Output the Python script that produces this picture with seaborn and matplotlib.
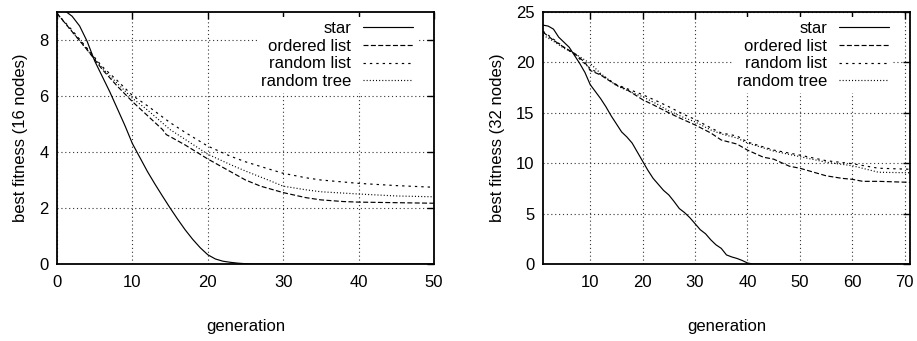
import numpy as np
import pandas as pd
import matplotlib
matplotlib.use("Agg")
import matplotlib.pyplot as plt
import seaborn as sns

# ---------------- data: 16 nodes ----------------
star16_gen = [0, 1, 2, 3, 4, 5, 6, 7, 8, 9, 10, 11, 12, 13, 14, 15, 16, 17, 18, 19,
              20, 21, 22, 23, 24, 25, 26, 50]
star16_val = [9.15, 9.05, 8.85, 8.5, 7.95, 7.25, 6.7, 6.15, 5.55, 4.95, 4.3, 3.8, 3.3,
              2.85, 2.42, 2.0, 1.6, 1.22, 0.88, 0.58, 0.33, 0.18, 0.1, 0.06, 0.03,
              0.01, 0.0, 0.0]

ordered16_gen = [0, 2, 4, 6, 8, 10, 12, 13, 14, 14.5, 15, 17, 20, 23, 25, 27, 30, 33,
                 35, 38, 40, 45, 50]
ordered16_val = [8.95, 8.3, 7.65, 6.95, 6.35, 5.8, 5.3, 5.05, 4.8, 4.62, 4.55, 4.25,
                 3.75, 3.3, 3.0, 2.78, 2.55, 2.37, 2.29, 2.23, 2.21, 2.19, 2.17]

rlist16_gen = [0, 2, 4, 6, 8, 10, 12, 15, 17, 20, 23, 25, 28, 30, 33, 35, 40, 45, 50]
rlist16_val = [8.95, 8.35, 7.7, 7.05, 6.55, 6.02, 5.65, 5.05, 4.7, 4.21, 3.85, 3.65,
               3.4, 3.24, 3.08, 3.0, 2.88, 2.8, 2.74]

rtree16_gen = [0, 2, 4, 6, 8, 10, 12, 15, 17, 20, 23, 25, 28, 30, 33, 35, 40, 45, 50]
rtree16_val = [8.95, 8.3, 7.65, 7.0, 6.45, 5.92, 5.5, 4.8, 4.45, 3.92, 3.55, 3.32,
               3.0, 2.78, 2.65, 2.58, 2.5, 2.43, 2.4]

# ---------------- data: 32 nodes ----------------
star32_gen = [1, 2, 3, 4, 5, 6, 7, 8, 9, 10, 11, 12, 13, 14, 15, 16, 17, 18, 19, 20,
              21, 22, 23, 24, 25, 26, 27, 28, 29, 30, 31, 32, 33, 34, 35, 36, 37, 38,
              39, 40, 41, 71]
star32_val = [23.7, 23.6, 23.3, 22.5, 22.0, 21.5, 20.7, 19.9, 19.0, 17.8, 17.1, 16.4,
              15.6, 14.7, 13.9, 13.1, 12.6, 12.0, 11.1, 10.2, 9.3, 8.5, 7.9, 7.3,
              6.85, 6.2, 5.5, 5.1, 4.6, 4.0, 3.4, 3.0, 2.4, 1.9, 1.55, 0.9, 0.7,
              0.55, 0.35, 0.1, 0.0, 0.0]

ordered32_gen = [1, 3, 5, 7, 9, 10, 12, 13, 15, 17, 20, 22, 25, 27, 30, 33, 35, 38, 40,
                 43, 45, 48, 50, 55, 58, 60, 62, 65, 71]
ordered32_val = [23.0, 22.2, 21.5, 20.9, 20.0, 19.2, 18.75, 18.4, 17.75, 17.3, 16.3,
                 15.8, 15.0, 14.5, 13.8, 13.0, 12.3, 11.9, 11.3, 10.6, 10.4, 9.7,
                 9.5, 8.75, 8.5, 8.4, 8.2, 8.2, 8.1]

rlist32_gen = [1, 3, 5, 7, 10, 12, 15, 18, 20, 23, 25, 28, 30, 33, 35, 38, 40, 45, 50,
               55, 60, 65, 71]
rlist32_val = [23.1, 22.3, 21.5, 20.8, 19.4, 18.8, 17.8, 17.2, 16.8, 16.1, 15.6, 14.8,
               14.35, 13.5, 13.0, 12.7, 12.1, 11.3, 10.8, 10.25, 9.95, 9.5, 9.4]

rtree32_gen = [1, 3, 5, 7, 10, 12, 15, 18, 20, 23, 25, 28, 30, 33, 35, 38, 40, 45, 50,
               55, 60, 65, 71]
rtree32_val = [22.7, 22.1, 21.4, 20.9, 19.9, 18.9, 17.7, 17.0, 16.6, 15.8, 15.2, 14.5,
               14.1, 13.3, 12.9, 12.5, 12.0, 11.2, 10.65, 10.1, 9.75, 9.1, 9.05]

series_names = ["star", "ordered list", "random list", "random tree"]
x_label = "generation"
y_labels = ["best fitness (16 nodes)", "best fitness (32 nodes)"]
xticks_16 = [0, 10, 20, 30, 40, 50]
yticks_16 = [0, 2, 4, 6, 8]
xticks_32 = [10, 20, 30, 40, 50, 60, 70]
yticks_32 = [0, 5, 10, 15, 20, 25]

# ---------------- style ----------------
sns.set_theme(style="white")
plt.rcParams["font.family"] = ["Liberation Sans", "DejaVu Sans"]
plt.rcParams["lines.scale_dashes"] = False
plt.rcParams["text.color"] = "black"
plt.rcParams["axes.labelcolor"] = "black"
FS = 12

line_styles = ["-", (0, (3.6, 1.7)), (0, (1.7, 2.9)), (0, (0.75, 1.5))]

fig = plt.figure(figsize=(9.17, 3.41), dpi=100)
ax1 = fig.add_axes([57 / 917, 1 - 264 / 341, (434 - 57) / 917, (264 - 12) / 341])
ax2 = fig.add_axes([543 / 917, 1 - 264 / 341, (910 - 543) / 917, (264 - 12) / 341])

panels = [
    (ax1, [(star16_gen, star16_val), (ordered16_gen, ordered16_val),
           (rlist16_gen, rlist16_val), (rtree16_gen, rtree16_val)],
     (0, 50), (0, 9), xticks_16, yticks_16, y_labels[0]),
    (ax2, [(star32_gen, star32_val), (ordered32_gen, ordered32_val),
           (rlist32_gen, rlist32_val), (rtree32_gen, rtree32_val)],
     (1, 71), (0, 25), xticks_32, yticks_32, y_labels[1]),
]

for ax, data, xl, yl, xt, yt, ylab in panels:
    for (g, v), name, ls in zip(data, series_names, line_styles):
        df = pd.DataFrame({"generation": g, "fitness": v})
        sns.lineplot(data=df, x="generation", y="fitness", ax=ax, color="black",
                     linewidth=0.85, linestyle=ls, label=name)
    ax.set_xlim(*xl)
    ax.set_ylim(*yl)
    ax.set_xticks(xt)
    ax.set_yticks(yt)
    ax.grid(True, color="#333333", linestyle=(0, (0.8, 2.0)), linewidth=0.8)
    ax.set_axisbelow(True)
    for s in ax.spines.values():
        s.set_visible(True)
        s.set_color("black")
        s.set_linewidth(1.3)
    ax.tick_params(axis="both", which="major", direction="in", length=5, width=1.0,
                   top=True, right=True, labelsize=FS, colors="black")
    ax.tick_params(axis="x", pad=8)
    ax.tick_params(axis="y", pad=6)
    ax.set_xlabel(x_label, fontsize=FS, labelpad=21, color="black")
    ax.set_ylabel(ylab, fontsize=FS, labelpad=8, color="black")

    w_ax = ax.get_position().width * 917
    h_ax = ax.get_position().height * 341
    handles, labels = ax.get_legend_handles_labels()
    leg = ax.legend(handles, labels, loc="upper right", fontsize=FS,
                    bbox_to_anchor=(1 - 17 / w_ax, 1 - 5 / h_ax),
                    markerfirst=False, frameon=True, fancybox=False,
                    facecolor="white", edgecolor="none", framealpha=1.0,
                    handlelength=3.0, handletextpad=0.7, labelspacing=0.16,
                    borderpad=0.25, borderaxespad=0.0)
    leg.set_zorder(5)
    for t in leg.get_texts():
        t.set_color("black")

fig.savefig("out.png", dpi=100)
